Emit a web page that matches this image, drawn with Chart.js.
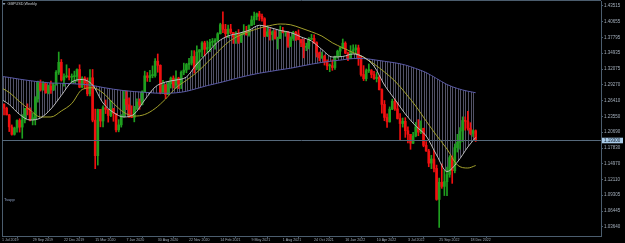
<!DOCTYPE html>
<html><head><meta charset="utf-8">
<script src="https://cdn.jsdelivr.net/npm/chart.js@4.4.1/dist/chart.umd.min.js"></script>
<style>html,body{margin:0;padding:0;background:#000;overflow:hidden}canvas{display:block}</style>
</head><body>
<canvas id="c" width="625" height="243" style="width:625px;height:243px"></canvas>
<script>
// ---- data (GBPUSD weekly, week 0 = week of 1 Jul 2019) ----
const open = [1.2700,1.2523,1.2574,1.2500,1.2380,1.2164,1.2030,1.2143,1.2280,1.2160,
1.2287,1.2500,1.2475,1.2290,1.2330,1.2670,1.2960,1.2830,1.2940,1.2780,
1.2900,1.2830,1.2920,1.3150,1.3330,1.3010,1.3070,1.3080,1.3060,1.3070,
1.3075,1.3200,1.2880,1.3045,1.2960,1.2760,1.3050,1.2285,1.1645,1.2480,
1.2270,1.2510,1.2480,1.2370,1.2490,1.2405,1.2110,1.2200,1.2350,1.2665,
1.2565,1.2345,1.2335,1.2485,1.2615,1.2565,1.2795,1.3085,1.3055,1.3090,
1.3090,1.3350,1.3275,1.2795,1.2915,1.2745,1.2940,1.3045,1.2915,1.3045,
1.2945,1.3150,1.3190,1.3290,1.3315,1.3435,1.3225,1.3515,1.3555,1.3680,
1.3565,1.3595,1.3690,1.3700,1.3730,1.3845,1.4010,1.3925,1.3845,1.3930,
1.3870,1.3790,1.3830,1.3705,1.3840,1.3885,1.3825,1.3995,1.4095,1.4155,
1.4205,1.4160,1.4115,1.3805,1.3880,1.3830,1.3880,1.3760,1.3760,1.3900,
1.3870,1.3870,1.3620,1.3760,1.3870,1.3840,1.3740,1.3680,1.3600,1.3620,
1.3745,1.3760,1.3685,1.3500,1.3410,1.3440,1.3335,1.3265,1.3270,1.3235,
1.3435,1.3530,1.3590,1.3675,1.3495,1.3400,1.3530,1.3555,1.3590,1.3410,
1.3110,1.3035,1.3180,1.3180,1.3110,1.3035,1.3060,1.2835,1.2570,1.2335,
1.2255,1.2485,1.2625,1.2490,1.2315,1.2225,1.2265,1.2095,1.2030,1.1870,
1.2000,1.2165,1.2070,1.2140,1.1830,1.1730,1.1510,1.1585,1.1415,1.0855,
1.1165,1.1090,1.1175,1.1305,1.1610,1.1375,1.1790,1.1885,1.2090,1.2280,
1.2265,1.2140,1.2045,1.2095];
const high = [1.2714,1.2580,1.2582,1.2520,1.2390,1.2200,1.2160,1.2290,1.2310,1.2385,
1.2500,1.2580,1.2510,1.2410,1.2710,1.2990,1.3010,1.2980,1.2970,1.2920,
1.2990,1.2950,1.3180,1.3515,1.3380,1.3120,1.3285,1.3215,1.3120,1.3170,
1.3210,1.3285,1.3070,1.3070,1.3050,1.3200,1.3200,1.2485,1.2485,1.2480,
1.2545,1.2650,1.2480,1.2640,1.2500,1.2405,1.2295,1.2385,1.2815,1.2810,
1.2690,1.2545,1.2535,1.2670,1.2670,1.2815,1.3170,1.3145,1.3185,1.3265,
1.3395,1.3480,1.3285,1.3005,1.2935,1.2985,1.3065,1.3085,1.3175,1.3060,
1.3175,1.3315,1.3310,1.3400,1.3540,1.3540,1.3625,1.3560,1.3705,1.3710,
1.3715,1.3745,1.3760,1.3760,1.3865,1.4035,1.4240,1.4015,1.4000,1.4015,
1.3870,1.3885,1.3920,1.3855,1.4010,1.3980,1.4005,1.4165,1.4235,1.4220,
1.4250,1.4200,1.4135,1.3990,1.3935,1.3900,1.3910,1.3785,1.3985,1.3960,
1.3890,1.3890,1.3790,1.3890,1.3890,1.3915,1.3750,1.3750,1.3675,1.3775,
1.3835,1.3825,1.3700,1.3515,1.3515,1.3460,1.3375,1.3300,1.3375,1.3440,
1.3550,1.3600,1.3750,1.3700,1.3515,1.3630,1.3645,1.3645,1.3640,1.3440,
1.3270,1.3210,1.3300,1.3200,1.3165,1.3145,1.3090,1.2850,1.2640,1.2400,
1.2525,1.2665,1.2665,1.2600,1.2405,1.2325,1.2330,1.2165,1.2030,1.2065,
1.2245,1.2295,1.2275,1.2140,1.1900,1.1760,1.1650,1.1740,1.1475,1.1240,
1.1495,1.1380,1.1440,1.1645,1.1640,1.1855,1.2030,1.2150,1.2345,1.2345,
1.2445,1.2240,1.2110,1.2110];
const low = [1.2480,1.2439,1.2382,1.2380,1.2080,1.2015,1.2015,1.2070,1.2070,1.1959,
1.2235,1.2380,1.2270,1.2200,1.2200,1.2610,1.2810,1.2825,1.2770,1.2760,
1.2770,1.2820,1.2920,1.3110,1.2990,1.2900,1.3050,1.3010,1.2955,1.2960,
1.2985,1.2870,1.2870,1.2850,1.2725,1.2725,1.2255,1.1410,1.1475,1.2165,
1.2165,1.2405,1.2250,1.2350,1.2265,1.2075,1.2075,1.2160,1.2340,1.2475,
1.2335,1.2330,1.2255,1.2480,1.2480,1.2560,1.2790,1.2985,1.2980,1.3050,
1.3060,1.3150,1.2760,1.2765,1.2675,1.2745,1.2865,1.2865,1.2865,1.2855,
1.2855,1.3105,1.3140,1.3200,1.3280,1.3135,1.3190,1.3190,1.3430,1.3450,
1.3500,1.3520,1.3625,1.3565,1.3710,1.3840,1.3865,1.3780,1.3775,1.3845,
1.3670,1.3670,1.3670,1.3685,1.3825,1.3820,1.3800,1.3990,1.4010,1.4095,
1.4085,1.4070,1.3790,1.3795,1.3730,1.3730,1.3745,1.3570,1.3760,1.3860,
1.3800,1.3600,1.3615,1.3725,1.3725,1.3735,1.3610,1.3410,1.3540,1.3570,
1.3740,1.3665,1.3425,1.3355,1.3400,1.3280,1.3195,1.3160,1.3185,1.3200,
1.3405,1.3430,1.3575,1.3485,1.3360,1.3400,1.3490,1.3485,1.3275,1.3080,
1.3000,1.2995,1.3145,1.3050,1.3020,1.2975,1.2830,1.2410,1.2275,1.2155,
1.2250,1.2475,1.2460,1.2305,1.1935,1.2160,1.1975,1.1875,1.1760,1.1860,
1.1985,1.2005,1.2040,1.1805,1.1720,1.1445,1.1410,1.1350,1.0840,1.0350,
1.1055,1.0925,1.0925,1.1255,1.1145,1.1335,1.1710,1.1760,1.1900,1.2105,
1.2105,1.2020,1.1990,1.1900];
const close = [1.2523,1.2574,1.2500,1.2380,1.2164,1.2030,1.2143,1.2280,1.2160,1.2287,
1.2500,1.2475,1.2290,1.2330,1.2670,1.2960,1.2830,1.2940,1.2780,1.2900,
1.2830,1.2920,1.3150,1.3330,1.3010,1.3070,1.3080,1.3060,1.3070,1.3075,
1.3200,1.2880,1.3045,1.2960,1.2760,1.3050,1.2285,1.1645,1.2480,1.2270,
1.2510,1.2480,1.2370,1.2490,1.2405,1.2110,1.2200,1.2350,1.2665,1.2565,
1.2345,1.2335,1.2485,1.2615,1.2565,1.2795,1.3085,1.3055,1.3090,1.3090,
1.3350,1.3275,1.2795,1.2915,1.2745,1.2940,1.3045,1.2915,1.3045,1.2945,
1.3150,1.3190,1.3290,1.3315,1.3435,1.3225,1.3515,1.3555,1.3680,1.3565,
1.3595,1.3690,1.3700,1.3730,1.3845,1.4010,1.3925,1.3845,1.3930,1.3870,
1.3790,1.3830,1.3705,1.3840,1.3885,1.3825,1.3995,1.4095,1.4155,1.4205,
1.4160,1.4115,1.3805,1.3880,1.3830,1.3880,1.3760,1.3760,1.3900,1.3870,
1.3870,1.3620,1.3760,1.3870,1.3840,1.3740,1.3680,1.3600,1.3620,1.3745,
1.3760,1.3685,1.3500,1.3410,1.3440,1.3335,1.3265,1.3270,1.3235,1.3435,
1.3530,1.3590,1.3675,1.3495,1.3400,1.3530,1.3555,1.3590,1.3410,1.3110,
1.3035,1.3180,1.3180,1.3110,1.3035,1.3060,1.2835,1.2570,1.2335,1.2255,
1.2485,1.2625,1.2490,1.2315,1.2225,1.2265,1.2095,1.2030,1.1870,1.2000,
1.2165,1.2070,1.2140,1.1830,1.1730,1.1510,1.1585,1.1415,1.0855,1.1165,
1.1090,1.1175,1.1305,1.1610,1.1375,1.1790,1.1885,1.2090,1.2280,1.2265,
1.2140,1.2045,1.2095,1.1930];

// moving-average lines (week index -> price)
const maWeeks = [0,4,8,12,16,20,24,28,32,36,40,44,48,52,56,60,64,68,72,76,80,84,88,92,96,100,
104,108,112,116,120,124,128,132,136,140,144,148,152,156,160,164,168,172,176,180,183];
const maFast = [1.2686,1.2568,1.2388,1.2288,1.2325,1.2487,1.2731,1.2974,1.3019,1.2920,1.2595,1.2424,
1.2343,1.2397,1.2649,1.2884,1.2974,1.3010,1.3065,1.3299,1.3498,1.3696,1.3805,1.3853,1.3908,1.3998,
1.3958,1.3904,1.3868,1.3787,1.3714,1.3561,1.3426,1.3435,1.3480,1.3420,1.3260,1.2920,1.2660,1.2397,
1.2180,1.2000,1.1657,1.1359,1.1530,1.1801,1.1973];
const maMid = [1.2893,1.2785,1.2619,1.2469,1.2343,1.2343,1.2451,1.2586,1.2839,1.2870,1.2776,1.2588,
1.2426,1.2359,1.2388,1.2496,1.2667,1.2870,1.3005,1.3148,1.3326,1.3516,1.3691,1.3806,1.3884,1.3945,
1.3992,1.4021,1.4007,1.3947,1.3880,1.3803,1.3682,1.3592,1.3505,1.3426,1.3299,1.3155,1.2992,1.2776,
1.2541,1.2270,1.2009,1.1765,1.1476,1.1422,1.1467];
const maSlow = [1.3083,1.3056,1.3025,1.2998,1.2974,1.2956,1.2951,1.2944,1.2933,1.2911,1.2875,1.2844,
1.2819,1.2801,1.2788,1.2774,1.2770,1.2779,1.2806,1.2857,1.2909,1.2953,1.3001,1.3050,1.3095,1.3133,
1.3164,1.3195,1.3223,1.3260,1.3296,1.3328,1.3353,1.3375,1.3397,1.3397,1.3375,1.3348,1.3321,1.3281,
1.3218,1.3144,1.3037,1.2929,1.2857,1.2808,1.2781];

const xTickWeeks = [0,13,25,37,49,61,73,85,97,109,121,133,145,157,169,181];
const xTickLabels = ['1 Jul 2019','29 Sep 2019','22 Dec 2019','15 Mar 2020','7 Jun 2020','30 Aug 2020',
'22 Nov 2020','14 Feb 2021','9 May 2021','1 Aug 2021','24 Oct 2021','16 Jan 2022','10 Apr 2022',
'3 Jul 2022','25 Sep 2022','18 Dec 2022'];
const yTickLabels = ['1.43515','1.40655','1.37795','1.34935','1.32075','1.29270','1.26410','1.23550',
'1.20690','1.17830','1.14970','1.12110','1.09305','1.06445','1.03640'];

// ---- drawing ----
const FRAME = '#4b5d6e', TXT = '#a3aebb';
const BULL = '#1f9f1f', BEAR = '#f01010';
const cv = document.getElementById('c');
const ctx0 = cv.getContext('2d');
function hatchPattern(){
  const p = document.createElement('canvas'); p.width = 13; p.height = 4;
  const g = p.getContext('2d'); g.fillStyle = 'rgba(150,150,185,0.55)';
  [0,3,5,8,10].forEach(x => g.fillRect(x,0,1,4));
  return ctx0.createPattern(p,'repeat');
}
const col = open.map((o,i) => close[i] >= o ? BULL : BEAR);
const pts = arr => maWeeks.map((w,i) => ({x:w, y:arr[i]}));
const lastClose = close[close.length-1];

const decor = {
  id:'decor',
  beforeDraw(ch){ const c=ch.ctx; c.save(); c.fillStyle='#000'; c.fillRect(0,0,ch.width,ch.height); c.restore(); },
  afterDraw(ch){
    const c = ch.ctx, a = ch.chartArea, y = ch.scales.y;
    c.save();
    c.strokeStyle = FRAME; c.lineWidth = 1;
    c.beginPath(); c.moveTo(a.left+0.5, 0); c.lineTo(a.left+0.5, a.bottom);
    c.moveTo(a.left, 0.5); c.lineTo(a.right, 0.5); c.stroke();
    // current price line
    const py = Math.round(y.getPixelForValue(lastClose)) + 0.5;
    c.strokeStyle = '#56697b';
    c.beginPath(); c.moveTo(a.left, py); c.lineTo(a.right, py); c.stroke();
    c.fillStyle = '#a9cbe8'; c.fillRect(a.right+1, py-2.8, 21, 5.6);
    c.fillStyle = '#0c1826'; c.font = '4.5px "Liberation Sans"'; c.textBaseline = 'middle'; c.textAlign='left';
    c.fillText(lastClose.toFixed(5), a.right+3, py+0.2);
    // title
    c.fillStyle = '#8a9aae';
    c.beginPath(); c.moveTo(2.5,3); c.lineTo(5.5,3); c.lineTo(4,5.3); c.closePath(); c.fill();
    c.fillStyle = '#c9cdd2'; c.font = '3.8px "Liberation Sans"';
    c.fillText('GBPUSD,Weekly', 7.5, 4.3);
    c.fillStyle = '#8ea2c8'; c.font = '4px "Liberation Sans"';
    c.fillText('Tsupp', 4, 199.5);
    c.restore();
  }
};

new Chart(cv, {
  type:'bar',
  data:{ datasets:[
    {type:'line', data:pts(maSlow), borderColor:'#5a5aa6', borderWidth:1, pointRadius:0, fill:false, cubicInterpolationMode:'monotone', order:1},
    {type:'line', data:pts(maMid), borderColor:'#a3a12c', borderWidth:1, pointRadius:0, fill:false, cubicInterpolationMode:'monotone', order:1},
    {type:'line', data:pts(maFast), borderColor:'#bdbdbd', borderWidth:1, pointRadius:0, fill:{target:0}, backgroundColor:hatchPattern(), cubicInterpolationMode:'monotone', order:0},
    {data:open.map((o,i)=>({x:i, y:[low[i], high[i]]})), backgroundColor:col, barThickness:1, grouped:false, borderWidth:0, order:3},
    {data:open.map((o,i)=>({x:i, y:[o, close[i]]})), backgroundColor:col, barThickness:2, grouped:false, borderWidth:0, minBarLength:1, order:2}
  ]},
  options:{
    responsive:false, animation:false, devicePixelRatio:1,
    layout:{padding:{top:1,left:2,right:0,bottom:0}},
    plugins:{legend:{display:false}, tooltip:{enabled:false}, filler:{drawTime:'beforeDatasetsDraw'}},
    scales:{
      x:{type:'linear', min:1.23, max:231.1, offset:false,
        afterBuildTicks(s){ s.ticks = xTickWeeks.map(v=>({value:Math.max(v, s.min)})); },
        afterFit(s){ s.height = 7; s.paddingLeft=0; s.paddingRight=0; },
        ticks:{autoSkip:false, maxRotation:0, minRotation:0, align:'start', padding:0, color:TXT,
          font:{family:'Liberation Sans', size:3.6}, callback:(v,i)=>xTickLabels[i]},
        grid:{display:true, drawOnChartArea:false, drawTicks:true, tickLength:2, color:FRAME},
        border:{display:true, color:FRAME}},
      y:{type:'linear', position:'right', min:1.0195, max:1.4436,
        afterBuildTicks(s){ s.ticks = yTickLabels.map(t=>({value:parseFloat(t)})); },
        afterFit(s){ s.width = 24; s.paddingTop=0; s.paddingBottom=0; },
        ticks:{autoSkip:false, padding:1, color:TXT, font:{family:'Liberation Sans', size:4.5}, callback:(v,i)=>yTickLabels[i]},
        grid:{display:true, drawOnChartArea:false, drawTicks:true, tickLength:2, color:FRAME},
        border:{display:true, color:FRAME}}
    }
  },
  plugins:[decor]
});
</script>
</body></html>
